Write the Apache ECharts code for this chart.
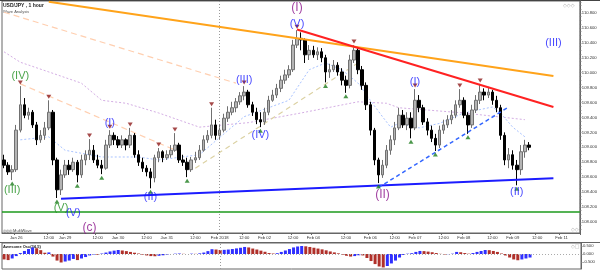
<!DOCTYPE html>
<html><head><meta charset="utf-8">
<script src="https://cdn.jsdelivr.net/npm/echarts@6/dist/echarts.min.js"></script>
<style>html,body{margin:0;padding:0;background:#fff}#c{width:600px;height:271px}</style>
</head><body><div id="c"></div>
<script>
// 2-hour candles: [open, close, low, high]
const ohlc = [
[108.83,108.76,108.72,108.90],[108.76,108.67,108.63,108.80],[108.67,108.70,108.56,108.76],[108.70,109.23,108.67,109.30],
[109.23,109.57,109.20,109.82],[109.57,109.43,109.39,109.66],[109.43,109.47,109.37,109.53],[109.47,109.30,109.26,109.50],
[109.30,109.10,109.03,109.34],[109.10,109.16,109.06,109.23],[109.16,109.26,109.10,109.34],[109.26,109.47,109.23,109.63],
[109.47,108.83,108.76,109.50],[108.83,108.43,108.32,108.86],[108.43,108.63,108.36,108.70],[108.63,108.76,108.59,108.83],
[108.76,108.70,108.63,108.83],[108.70,108.80,108.67,108.86],[108.80,108.63,108.53,108.83],[108.63,108.83,108.59,108.90],
[108.83,108.90,108.76,108.96],[108.90,108.96,108.83,109.11],[108.96,108.83,108.79,109.03],[108.83,108.76,108.72,108.90],
[108.76,108.72,108.64,108.83],[108.72,109.03,108.70,109.10],[109.03,109.16,108.99,109.23],[109.16,109.10,109.03,109.20],
[109.10,109.03,108.99,109.15],[109.03,109.10,108.99,109.16],[109.10,109.03,108.96,109.12],[109.03,109.16,108.99,109.26],
[109.16,108.90,108.86,109.19],[108.90,108.80,108.75,108.96],[108.80,108.72,108.67,108.86],[108.72,108.67,108.61,108.76],
[108.67,108.59,108.45,108.72],[108.59,108.86,108.53,108.90],[108.86,108.94,108.80,108.99],[108.94,108.86,108.80,108.96],
[108.86,108.90,108.83,108.96],[108.90,108.96,108.86,109.03],[108.96,109.03,108.94,109.19],[109.03,108.83,108.79,109.06],
[108.83,108.80,108.75,108.90],[108.80,108.70,108.60,108.86],[108.70,108.83,108.67,108.87],[108.83,108.86,108.79,108.94],
[108.86,108.96,108.83,109.03],[108.96,109.10,108.94,109.16],[109.10,109.16,109.06,109.23],[109.16,109.30,109.12,109.53],
[109.30,109.16,109.10,109.37],[109.16,109.23,109.10,109.30],[109.23,109.39,109.20,109.45],[109.39,109.47,109.34,109.55],
[109.47,109.53,109.43,109.61],[109.53,109.61,109.47,109.66],[109.61,109.69,109.57,109.74],[109.69,109.74,109.63,109.82],
[109.74,109.57,109.53,109.77],[109.57,109.47,109.42,109.61],[109.47,109.37,109.31,109.53],[109.37,109.34,109.27,109.47],
[109.34,109.47,109.30,109.53],[109.47,109.63,109.43,109.69],[109.63,109.70,109.61,109.77],[109.70,109.79,109.66,109.85],
[109.79,109.90,109.74,109.96],[109.90,109.97,109.85,110.04],[109.97,110.04,109.93,110.10],[110.04,110.37,110.01,110.44],
[110.37,110.46,110.33,110.57],[110.46,110.44,110.30,110.54],[110.44,110.24,110.13,110.46],[110.24,110.30,110.17,110.37],
[110.30,110.24,110.20,110.36],[110.24,110.28,110.17,110.34],[110.28,110.20,110.14,110.33],[110.20,110.01,109.87,110.24],
[110.01,110.04,109.93,110.12],[110.04,110.10,110.01,110.17],[110.10,110.01,109.96,110.14],[110.01,109.90,109.83,110.06],
[109.90,109.83,109.73,109.96],[109.83,110.17,109.79,110.24],[110.17,110.30,110.13,110.37],[110.30,110.04,109.98,110.33],
[110.04,109.83,109.77,110.09],[109.83,109.57,109.50,109.87],[109.57,109.23,109.16,109.61],[109.23,108.83,108.76,109.26],
[108.83,108.63,108.52,108.86],[108.63,108.76,108.59,108.83],[108.76,108.96,108.72,109.03],[108.96,109.10,108.90,109.16],
[109.10,109.26,109.03,109.34],[109.26,109.43,109.23,109.53],[109.43,109.30,109.26,109.50],[109.30,109.39,109.23,109.47],
[109.39,109.26,109.12,109.47],[109.26,109.63,109.23,109.78],[109.63,109.53,109.47,109.70],[109.53,109.34,109.30,109.57],
[109.34,109.23,109.16,109.39],[109.23,109.12,109.07,109.29],[109.12,109.03,108.95,109.18],[109.03,109.23,108.99,109.29],
[109.23,109.30,109.18,109.37],[109.30,109.37,109.26,109.43],[109.37,109.43,109.31,109.50],[109.43,109.57,109.39,109.63],
[109.57,109.63,109.53,109.78],[109.63,109.43,109.39,109.67],[109.43,109.30,109.18,109.47],[109.30,109.50,109.26,109.57],
[109.50,109.63,109.46,109.70],[109.63,109.74,109.58,109.85],[109.74,109.70,109.63,109.79],[109.70,109.74,109.66,109.81],
[109.74,109.63,109.57,109.77],[109.63,109.53,109.47,109.69],[109.53,109.16,109.10,109.57],[109.16,108.83,108.76,109.20],
[108.83,108.90,108.72,108.99],[108.90,108.76,108.70,108.96],[108.76,108.70,108.49,108.83],[108.70,108.94,108.63,109.03],
[108.94,109.03,108.86,109.10],[109.03,109.00,108.96,109.07]
];
// Awesome Oscillator (34,5)
const ao = [
-0.34,-0.38,-0.28,-0.13,0.06,0.19,0.31,0.41,0.36,0.24,0.08,0.10,-0.16,-0.41,-0.53,-0.47,-0.41,-0.31,-0.38,-0.28,
-0.19,-0.09,-0.03,-0.05,0.03,0.09,0.16,0.21,0.25,0.22,0.18,0.13,0.08,0.03,-0.04,-0.09,-0.13,-0.14,-0.11,-0.08,
-0.04,0.00,0.02,0.03,0.01,0.00,0.02,0.01,0.04,0.09,0.18,0.30,0.28,0.25,0.26,0.28,0.31,0.35,0.39,0.44,
0.41,0.34,0.28,0.21,0.14,0.06,0.03,0.05,0.13,0.22,0.31,0.41,0.47,0.50,0.48,0.44,0.39,0.34,0.29,0.23,
0.16,0.10,0.04,-0.04,-0.11,-0.16,-0.13,-0.08,-0.09,-0.25,-0.44,-0.63,-0.78,-0.84,-0.75,-0.59,-0.41,-0.22,-0.06,0.02,
0.05,0.13,0.19,0.18,0.15,0.11,0.06,0.01,-0.03,-0.01,0.02,0.13,0.11,0.06,0.02,0.06,0.13,0.19,0.25,0.24,
0.19,0.13,0.03,-0.09,-0.22,-0.34,-0.39,-0.34,-0.28,-0.22
];
const totalSlots = 142;
const xLabelIdx = [3,11,15,23,28,35,40,47,53,59,64,71,76,84,90,96,101,108,113,120,125,131,137];
const xLabels = ['Jan 26','12:00','Jan 29','12:00','Jan 30','12:00','Jan 31','12:00','Feb 2018','12:00','Feb 02','12:00','Feb 04','12:00','Feb 06','12:00','Feb 07','12:00','Feb 08','12:00','Feb 09','12:00','Feb 11'];
const yTicks = [108.0,108.2,108.4,108.6,108.8,109.0,109.2,109.4,109.6,109.8,110.0,110.2,110.4,110.6,110.8];
const aoTicks = [0.5,0.0,-0.5];
const highMarks = [4,11,21,26,31,38,42,51,59,72,86,101,112,117];
const lowMarks = [2,13,18,24,36,45,63,79,84,92,100,106,114,126];
const waveText  = ['(III)','(IV)','(V)','(V)','(c)','(I)','(II)','(III)','(IV)','(V)','(I)','(II)','(I)','(II)','(III)'];
const waveIdx   = [1.6,4,14,17,21,26,36,59,63,72,72,93,101,126,135];
const wavePrice = [108.43,109.96,108.19,108.12,107.92,109.32,108.33,109.90,109.16,110.65,110.87,108.36,109.87,108.40,110.40];
const waveDegree= ['g','g','g','b','p','b','b','b','b','b','p','p','b','b','b'];
const maSlow = [[0,110.28],[4,110.14],[11,110.01],[19,109.86],[24,109.63],[30,109.59],[38,109.46],[48,109.27],[60,109.33],[73,109.46],[87,109.61],[94,109.59],[97,109.53],[113,109.46],[128,109.37]];
const maFast = [[4,109.10],[11,109.14],[15,108.96],[24,108.87],[33,108.87],[38,108.83],[48,108.90],[59,109.41],[68,109.59],[70,109.63],[75,110.04],[79,110.13],[83,110.04],[87,109.86],[90,109.63],[93,109.41],[95,109.27],[97,109.32],[102,109.26],[107,109.32],[113,109.46],[120,109.54],[122,109.46],[125,109.27],[128,109.14]];
const orangeLine = [[11,110.95],[135,109.955]];
const redLine = [[72,110.58],[135,109.54]];
const supportLine = [[14,108.31],[135,108.585]];
const dashedBlue = [[92,108.46],[124,109.54]];
const peachA = [[0,110.81],[57,109.86]];
const peachB = [[4,109.85],[43,108.94]];
const tanA = [[47,108.72],[87,110.13]];
const greenLevel = 108.13;
const febIdx = 53;
const priceBoxes = [[109.375,'109.375','#ffffff','#888'],[109.148,'109.148','#d6e6ff','#6a8fd0'],[109.058,'109.058','#ffffff','#888'],[108.991,'108.991','#c8c8ff','#5555cc'],[108.517,'108.517','#f6c8c8','#c06060']];

const cats = Array.from({length: totalSlots}, (_, i) => String(i));
const yMinorTicks = [];
for (let v = 107.90; v <= 110.95; v += 0.05) yMinorTicks.push(+v.toFixed(2));
const waveColors = {g: '#1f8f1f', b: '#1818ff', p: '#8a108a'};

function lineSeries(data, color, width, type, z) {
  return {type: 'line', data, xAxisIndex: 0, yAxisIndex: 0, showSymbol: false, silent: true, z,
    lineStyle: {color, width, type}, smooth: false, animation: false};
}

const chart = echarts.init(document.getElementById('c'), null, {renderer: 'canvas'});
chart.setOption({
  animation: false,
  backgroundColor: '#ffffff',
  grid: [
    {left: 2, right: 19, top: 1, bottom: 38, show: true, borderColor: '#666', borderWidth: 1},
    {left: 2, right: 19, top: 243, bottom: 2, show: true, borderColor: '#666', borderWidth: 1}
  ],
  xAxis: [
    {type: 'category', data: cats, gridIndex: 0, boundaryGap: true,
     axisLine: {show: true, lineStyle: {color: '#666'}},
     axisTick: {show: true, length: 2, interval: (i) => xLabelIdx.includes(i), lineStyle: {color: '#666'}},
     axisLabel: {show: true, fontSize: 4.2, color: '#333', margin: 3, fontFamily: 'Liberation Sans, Arial',
       interval: (i) => xLabelIdx.includes(i),
       formatter: (v) => { const k = xLabelIdx.indexOf(+v); return k >= 0 ? xLabels[k] : ''; }},
     splitLine: {show: false}},
    {type: 'category', data: cats, gridIndex: 1, boundaryGap: true,
     axisLine: {show: false}, axisTick: {show: false}, axisLabel: {show: false}, splitLine: {show: false}}
  ],
  yAxis: [
    {type: 'value', gridIndex: 0, position: 'right', min: 107.851, max: 110.961, scale: true,
     axisLine: {show: true, lineStyle: {color: '#666'}},
     axisTick: {show: true, length: 1.5, customValues: yMinorTicks, lineStyle: {color: '#777'}},
     axisLabel: {show: true, customValues: yTicks, fontSize: 4.2, color: '#333', margin: 2, fontFamily: 'Liberation Sans, Arial',
       formatter: (v) => v.toFixed(3)},
     splitLine: {show: false}},
    {type: 'value', gridIndex: 1, position: 'right', min: -0.9375, max: 0.6875,
     axisLine: {show: true, lineStyle: {color: '#666'}},
     axisTick: {show: true, length: 1.5, customValues: aoTicks, lineStyle: {color: '#777'}},
     axisLabel: {show: true, customValues: aoTicks, fontSize: 4.2, color: '#333', margin: 2, fontFamily: 'Liberation Sans, Arial',
       formatter: (v) => v.toFixed(3)},
     splitLine: {show: false}}
  ],
  series: [
    lineSeries(maSlow, '#d4aee4', 1, [2, 2], 1),
    lineSeries(maFast, '#a9c3ff', 1, [2, 2], 1),
    lineSeries(peachA, '#ffcfb0', 1.2, [6, 4], 1),
    lineSeries(peachB, '#ffcfb0', 1.2, [6, 4], 1),
    lineSeries(tanA, '#dcd2a4', 1.2, [5, 4], 1),
    {type: 'candlestick', data: ohlc, xAxisIndex: 0, yAxisIndex: 0, barWidth: 3, z: 3,
     itemStyle: {color: '#b4b4b4', color0: '#000000', borderColor: '#707070', borderColor0: '#000000', borderWidth: 1},
     markLine: {symbol: 'none', silent: true, animation: false,
       data: [
         {xAxis: String(febIdx), lineStyle: {color: '#9a9a9a', width: 1, type: [1, 2]}, label: {show: false}},
         {yAxis: greenLevel, lineStyle: {color: '#1c9a1c', width: 1.5, type: 'solid'}, label: {show: false}}
       ].concat(priceBoxes.map(b => ({yAxis: b[0], lineStyle: {opacity: 0},
         label: {show: true, position: 'end', distance: 1, formatter: b[1], fontSize: 4.2, color: '#222',
           backgroundColor: b[2], borderColor: b[3], borderWidth: 0.6, borderRadius: 1.5, padding: [0.5, 1]}})))}},
    lineSeries(orangeLine, '#ffa31a', 2, 'solid', 4),
    lineSeries(redLine, '#ff2222', 2, 'solid', 4),
    lineSeries(supportLine, '#1c1cff', 2, 'solid', 4),
    lineSeries(dashedBlue, '#3366ff', 1.5, [4, 3], 4),
    {type: 'scatter', xAxisIndex: 0, yAxisIndex: 0, z: 5, silent: true,
     data: highMarks.map(i => [i, ohlc[i][3]]), symbol: 'triangle', symbolRotate: 180, symbolSize: [5, 4], symbolOffset: [0, -3.5],
     itemStyle: {color: '#8e1b1b'}},
    {type: 'scatter', xAxisIndex: 0, yAxisIndex: 0, z: 5, silent: true,
     data: lowMarks.map(i => [i, ohlc[i][2]]), symbol: 'triangle', symbolSize: [5, 4], symbolOffset: [0, 3.5],
     itemStyle: {color: '#1e7d1e'}},
    {type: 'scatter', xAxisIndex: 0, yAxisIndex: 0, z: 6, silent: true, symbolSize: 1,
     itemStyle: {color: 'rgba(0,0,0,0)'},
     data: waveText.map((t, k) => ({value: [waveIdx[k], wavePrice[k]],
       label: {show: true, position: 'inside', formatter: t, color: waveColors[waveDegree[k]],
         fontSize: waveDegree[k] === 'p' ? 12 : 11, fontFamily: 'Liberation Sans, Arial'}}))},
    {type: 'bar', xAxisIndex: 1, yAxisIndex: 1, barWidth: 3, silent: true,
     data: ao.map((v, i) => ({value: v, itemStyle: {color: (i > 0 && v >= ao[i - 1]) ? '#2f2fff' : '#b0302a'}})),
     markLine: {symbol: 'none', silent: true, animation: false, label: {show: false},
       data: [
         {yAxis: 0, lineStyle: {color: '#aaa', width: 1, type: [1, 2]}},
         {xAxis: String(febIdx), lineStyle: {color: '#9a9a9a', width: 1, type: [1, 2]}}
       ]}}
  ],
  graphic: [
    {type: 'line', shape: {x1: 0, y1: 0.5, x2: 600, y2: 0.5}, style: {stroke: '#444', lineWidth: 1}},
    {type: 'line', shape: {x1: 0, y1: 242.5, x2: 600, y2: 242.5}, style: {stroke: '#666', lineWidth: 1}},
    {type: 'text', left: 3, top: 3, style: {text: 'USD/JPY , 1 hour', font: 'bold 5px Liberation Sans, Arial', fill: '#222'}},
    {type: 'text', left: 3, top: 10, style: {text: 'Wave Analysis', font: '4px Liberation Sans, Arial', fill: '#555'}},
    {type: 'text', left: 3, top: 229, style: {text: '◎◎◎ MultiWave', font: '4px Liberation Sans, Arial', fill: '#444'}},
    {type: 'text', left: 3, top: 245, style: {text: 'Awesome Osc(34,5)', font: 'bold 4px Liberation Sans, Arial', fill: '#222'}},
    {type: 'text', left: 563, top: 3, style: {text: '◇◇◇', font: '5px DejaVu Sans', fill: '#aaa'}},
    {type: 'text', left: 571, top: 227, style: {text: '◇◇', font: '5px DejaVu Sans', fill: '#aaa'}},
    {type: 'text', left: 571, top: 244, style: {text: '◇□', font: '5px DejaVu Sans', fill: '#aaa'}}
  ]
});
</script>
</body></html>
